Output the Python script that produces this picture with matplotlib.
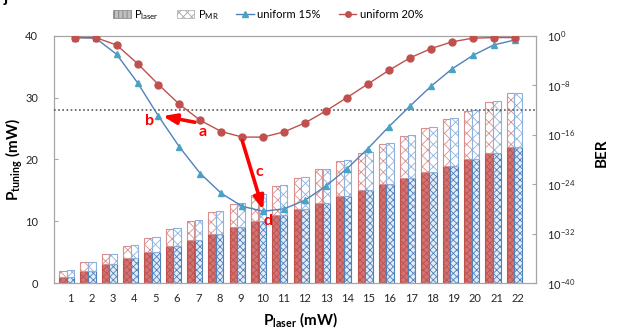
import numpy as np
import matplotlib
matplotlib.use('Agg')
import matplotlib.pyplot as plt
from matplotlib.patches import Patch
from matplotlib.lines import Line2D
from matplotlib.ticker import NullLocator

plt.rcParams['font.family'] = ['Lato', 'DejaVu Sans']
plt.rcParams['mathtext.fontset'] = 'custom'
plt.rcParams['mathtext.rm'] = 'Lato'
plt.rcParams['mathtext.bf'] = 'Lato:bold'
plt.rcParams['mathtext.it'] = 'Lato:italic'
plt.rcParams['hatch.linewidth'] = 0.6

# laser power (mW), also the x categories
p_laser = list(range(1, 23))
# microring tuning power (mW)
pmr_20 = [0.94, 1.35, 1.65, 2.05, 2.35, 2.75, 3.1, 3.5, 3.85, 4.3, 4.7,
          5.05, 5.4, 5.75, 6.1, 6.45, 6.8, 7.15, 7.5, 7.9, 8.3, 8.7]
pmr_15 = [1.05, 1.45, 1.75, 2.2, 2.5, 2.85, 3.25, 3.6, 4.0, 4.4, 4.8,
          5.15, 5.5, 5.9, 6.25, 6.6, 6.95, 7.3, 7.65, 8.0, 8.4, 8.8]
# BER exponents (log10)
ber20_exp = [-0.3, -0.3, -1.5, -4.5, -7.9, -11.1, -13.7, -15.5, -16.4, -16.4, -15.55,
             -14.1, -12.15, -10.0, -7.8, -5.6, -3.6, -2.1, -1.0, -0.4, -0.3, -0.3]
ber15_exp = [-0.3, -0.4, -3.0, -7.6, -13.0, -18.0, -22.3, -25.5, -27.6, -28.4, -28.0,
             -26.6, -24.3, -21.5, -18.25, -14.7, -11.4, -8.2, -5.4, -3.2, -1.5, -0.7]
y_ticks_ber = [0, -8, -16, -24, -32, -40]

x = np.array(p_laser)
ber20 = 10.0 ** np.array(ber20_exp)
ber15 = 10.0 ** np.array(ber15_exp)

fig = plt.figure(figsize=(6.18, 3.30), dpi=100)
rect = [53.5 / 618, 1 - 283 / 330, (536 - 53.5) / 618, (283 - 35.7) / 330]
ax = fig.add_axes(rect)

w = 0.35
ax.bar(x - 0.18, p_laser, w, facecolor='#d07472', edgecolor='#c0504d', hatch='xxxxx', lw=0.8)
ax.bar(x - 0.18, pmr_20, w, bottom=p_laser, facecolor='white', edgecolor='#d88f8d', hatch='xxx', lw=0.8)
ax.bar(x + 0.18, p_laser, w, facecolor='#e3ecf7', edgecolor='#4f81bd', hatch='xxxxx', lw=0.8)
ax.bar(x + 0.18, pmr_15, w, bottom=p_laser, facecolor='white', edgecolor='#8eb0dd', hatch='xxx', lw=0.8)

ax.set_xlim(0.38, 23.02)
ax.set_ylim(0, 40)
ax.set_xticks(x + 0.17)
ax.set_xticklabels([str(v) for v in p_laser])
ax.set_yticks([0, 10, 20, 30, 40])
ax.tick_params(axis='x', length=0, pad=7, labelsize=8, labelcolor='#262626')
ax.tick_params(axis='y', direction='in', length=3, color='#a6a6a6', pad=11,
               labelsize=8, labelcolor='#262626')
for s in ax.spines.values():
    s.set_color('#a6a6a6')
    s.set_linewidth(0.9)

# BER axis on top, own x scale for the lines
ax2 = fig.add_axes(rect, frameon=False)
ax2.set_xlim(-0.01, 23.02)
ax2.set_yscale('log')
ax2.set_ylim(1e-40, 1)
ax2.set_xticks([])
ax2.yaxis.tick_right()
ax2.set_yticks([10.0 ** e for e in y_ticks_ber])
ax2.set_yticklabels([r'$10^{%d}$' % e for e in y_ticks_ber])
ax2.yaxis.set_minor_locator(NullLocator())
ax2.tick_params(axis='y', direction='in', length=3, color='#a6a6a6', pad=8,
                labelsize=8, labelcolor='#262626')

ax2.axhline(1e-12, color='#595959', ls=(0, (1, 1.5)), lw=1.2)
ax2.plot(x, ber15, color='#4f81bd', lw=1, marker='^', ms=5, mfc='#4aa3c4', mec='#4aa3c4')
ax2.plot(x, ber20, color='#c0504d', lw=1, marker='o', ms=5, mfc='#c0504d', mec='#c0504d')

arrow = dict(arrowstyle='-|>,head_length=0.8,head_width=0.3', color='red', lw=2.6,
             shrinkA=0, shrinkB=0, mutation_scale=10)
ax2.annotate('', xy=(5.2, 10 ** -13.0), xytext=(6.74, 10 ** -14.0), arrowprops=arrow)
ax2.annotate('', xy=(10.0, 10 ** -28.2), xytext=(9.0, 10 ** -17.0), arrowprops=arrow)
lab = dict(color='red', fontweight='bold', fontsize=11.5, ha='center', va='center')
ax2.text(7.11, 10 ** -15.55, 'a', **lab)
ax2.text(4.59, 10 ** -13.8, 'b', **lab)
ax2.text(9.8, 10 ** -22.0, 'c', **lab)
ax2.text(10.24, 10 ** -30.0, 'd', **lab)

fig.text(300 / 618, 1 - 320 / 330, r'$\mathbf{P_{laser}}$ (mW)', ha='center', va='center',
         fontsize=11, fontweight='bold')
fig.text(14 / 618, 1 - 160 / 330, r'$\mathbf{P_{tuning}}$ (mW)', ha='center', va='center',
         fontsize=11, fontweight='bold', rotation=90)
fig.text(602 / 618, 1 - 153 / 330, 'BER', ha='center', va='center',
         fontsize=11, fontweight='bold', rotation=90)
fig.text(0.006, 0.995, 'j', fontsize=12, fontweight='bold', va='baseline')

handles = [
    Patch(facecolor='#bfbfbf', edgecolor='#7f7f7f', hatch='||||', lw=0.5, label=r'P$_\mathrm{laser}$'),
    Patch(facecolor='white', edgecolor='#a6a6a6', hatch='xxxx', lw=0.5, label=r'P$_\mathrm{MR}$'),
    Line2D([], [], color='#4f81bd', lw=1, marker='^', ms=4, mfc='#4aa3c4', mec='#4aa3c4', label='uniform 15%'),
    Line2D([], [], color='#c0504d', lw=1, marker='o', ms=4, label='uniform 20%'),
]
fig.legend(handles=handles, ncol=4, loc='center', bbox_to_anchor=(268 / 618, 1 - 15 / 330),
           frameon=False, fontsize=8, handlelength=1.6, handletextpad=0.3, columnspacing=1.6)

fig.savefig('out.png', dpi=100)
